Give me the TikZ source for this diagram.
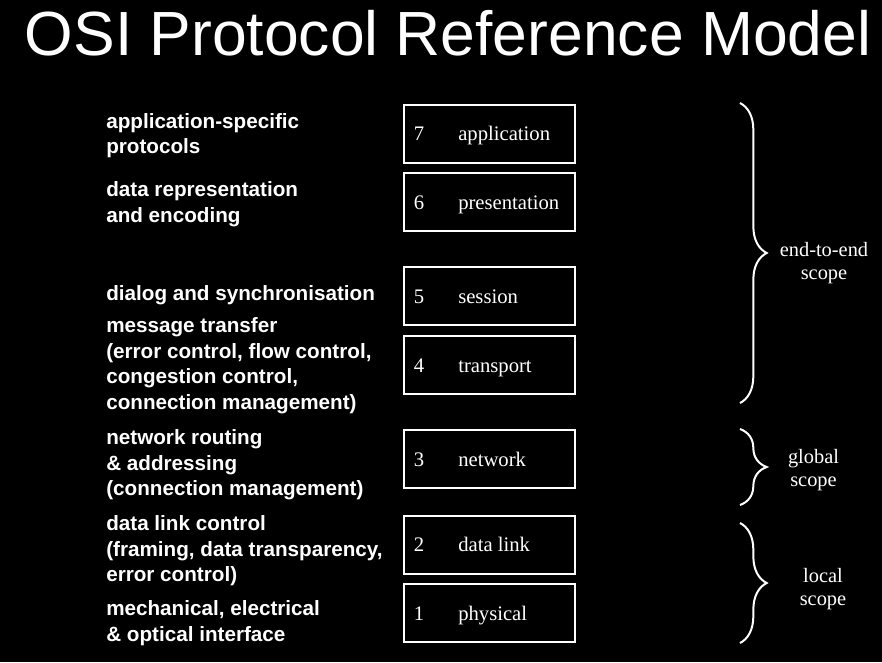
\documentclass[tikz,border=0pt]{standalone}
\usepackage{fontspec}
\setmainfont{Liberation Serif}
\newfontfamily\sansfont{Liberation Sans}
\usetikzlibrary{decorations.pathreplacing}

\begin{document}
\begin{tikzpicture}[x=0.75pt,y=-0.75pt,
  lay/.style={draw=white, line width=1.5pt, minimum width=128.25pt, minimum height=43.5pt, inner sep=0pt},
  num/.style={anchor=base, text=white, inner sep=0pt, font=\fontsize{15.5}{18}\selectfont},
  nm/.style={anchor=base west, text=white, inner sep=0pt, font=\fontsize{15.5}{18}\selectfont},
  desc/.style={anchor=west, align=left, text=white, inner sep=0pt, font=\sansfont\bfseries\fontsize{15.5}{19.2}\selectfont},
  brc/.style={draw=white, line width=1.5pt, decorate, decoration={brace, amplitude=20pt}},
  scp/.style={align=center, text=white, inner sep=0pt, font=\fontsize{15.3}{17.3}\selectfont}
]
% ---- page ----
\fill[black] (0,0) rectangle (882,662);
\useasboundingbox (0,0) rectangle (882,662);

\node[anchor=base, text=white, inner sep=0pt, font=\sansfont\fontsize{46.8}{56}\selectfont] (title) at (448,55.5) {OSI Protocol Reference Model};

% ===== LAYER BOXES =====
\def\bx{489.5} % box centre x
\node[lay] (l7) at (\bx,133.5){};\node[num] (n7) at ([shift={(-70.5,7)}]l7.center){7};\node[nm] (m7) at ([shift={(-31.5,7)}]l7.center){application};
\node[lay] (l6) at (\bx,202){};  \node[num] (n6) at ([shift={(-70.5,7)}]l6.center){6};\node[nm] (m6) at ([shift={(-31.5,7)}]l6.center){presentation};
\node[lay] (l5) at (\bx,296){};  \node[num] (n5) at ([shift={(-70.5,7)}]l5.center){5};\node[nm] (m5) at ([shift={(-31.5,7)}]l5.center){session};
\node[lay] (l4) at (\bx,365){};  \node[num] (n4) at ([shift={(-70.5,7)}]l4.center){4};\node[nm] (m4) at ([shift={(-31.5,7)}]l4.center){transport};
\node[lay] (l3) at (\bx,459){};  \node[num] (n3) at ([shift={(-70.5,7)}]l3.center){3};\node[nm] (m3) at ([shift={(-31.5,7)}]l3.center){network};
\node[lay] (l2) at (\bx,544.5){};\node[num] (n2) at ([shift={(-70.5,7)}]l2.center){2};\node[nm] (m2) at ([shift={(-31.5,7)}]l2.center){data link};
\node[lay] (l1) at (\bx,613){};  \node[num] (n1) at ([shift={(-70.5,7)}]l1.center){1};\node[nm] (m1) at ([shift={(-31.5,7)}]l1.center){physical};

% ===== FUNCTIONS (left column) =====
\node[desc] (d7) at (106,135.7){application-specific\\protocols};
\node[desc] (d6) at (106,204.2){data representation\\and encoding};
\node[desc] (d5) at (106,294.7){dialog and synchronisation};
\node[desc] (d4) at (106,365.7){message transfer\\(error control, flow control,\\congestion control,\\connection management)};
\node[desc] (d3) at (106,464.7){network routing\\\& addressing\\(connection management)};
\node[desc] (d2) at (106,550.7){data link control\\(framing, data transparency,\\error control)};
\node[desc] (d1) at (106,623.2){mechanical, electrical\\\& optical interface};

% ===== SCOPE BRACES =====
\coordinate (e2et) at (740,103); \coordinate (e2eb) at (740,403);
\draw[brc] (e2et) -- (e2eb);
\node[scp] (e2e) at (824,263.5){end-to-end\\scope};

\coordinate (glbt) at (740,429); \coordinate (glbb) at (740,505);
\draw[brc] (glbt) -- (glbb);
\node[scp] (glb) at (813.5,470){global\\scope};

\coordinate (loct) at (740,523); \coordinate (locb) at (740,643);
\draw[brc] (loct) -- (locb);
\node[scp] (loc) at (823,589.5){local\\scope};

\end{tikzpicture}
\end{document}
